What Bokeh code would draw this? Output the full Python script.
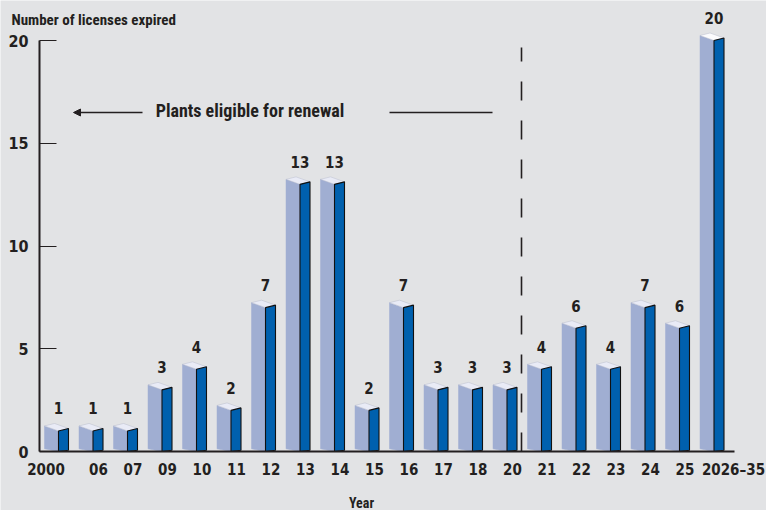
from bokeh.plotting import figure
from bokeh.models import Range1d, FixedTicker, Label, Arrow, NormalHead, ColumnDataSource
from bokeh.core.properties import value
from bokeh.embed import file_html
from bokeh.resources import INLINE

# ---- data ----
years = ["2000", "06", "07", "09", "10", "11", "12", "13", "14", "15",
         "16", "17", "18", "20", "21", "22", "23", "24", "25", "2026\u201335"]
counts = [1, 1, 1, 3, 4, 2, 7, 13, 13, 2, 7, 3, 3, 3, 4, 6, 4, 7, 6, 20]
y_ticks = [0, 5, 10, 15, 20]
title_text = "Number of licenses expired"
x_title = "Year"
note_text = "Plants eligible for renewal"

# ---- styling / geometry ----
BG = "#e2e3e5"
INK = "#231f20"
LEFT_FACE = "#a0aed2"
RIGHT_FACE = "#0060ae"
TOP_FACE = "#e9ebf6"
NUM_FONT = "DejaVu Sans Condensed"
TXT_FONT = "'Roboto Condensed', Roboto"
PX_X = 34.5   # pixels per category step
PX_Y = 20.55  # pixels per unit
OX, OY = 58.0, 451.0  # pixel position of category 0 / value 0

W, H = 766, 510


def dx(px):
    return (px - OX) / PX_X


def dy(py):
    return (OY - py) / PX_Y


p = figure(width=W, height=H, x_range=Range1d(dx(0), dx(W)),
           y_range=Range1d(dy(H), dy(0)),
           output_backend="svg", toolbar_location=None,
           min_border=0, min_border_left=0, min_border_right=0,
           min_border_top=0, min_border_bottom=0,
           background_fill_color=BG, border_fill_color=BG,
           outline_line_color=None)
p.grid.visible = False

# bar prisms
wl, wr = 14 / PX_X, 10 / PX_X
dl, dr = 5 / PX_Y, 2.5 / PX_Y
bl, br = 2.7 / PX_Y, 1.3 / PX_Y
idx = list(range(len(counts)))
left_xs, left_ys, right_xs, right_ys, top_xs, top_ys, top_cols = [], [], [], [], [], [], []
for i, v in zip(idx, counts):
    left_xs.append([i - wl, i, i, i - wl])
    left_ys.append([v + dl, v, 0, bl])
    right_xs.append([i, i + wr, i + wr, i])
    right_ys.append([v, v + dr, br, 0])
    top_xs.append([i - wl, i, i + wr, i - wl + wr])
    top_ys.append([v + dl, v, v + dr, v + dl + dr])
    top_cols.append("#fbfbfd" if v == max(counts) else TOP_FACE)

p.patches(left_xs, left_ys, fill_color=LEFT_FACE, line_color=LEFT_FACE, line_width=0.5)
p.patches(top_xs, top_ys, fill_color=top_cols, line_color="#b8bccc", line_width=0.5)
p.patches(right_xs, right_ys, fill_color=RIGHT_FACE, line_color="#111111", line_width=1.1)

# value labels
src = ColumnDataSource(dict(x=idx, y=[v + 22.5 / PX_Y for v in counts],
                            t=[str(v) for v in counts]))
p.text(x="x", y="y", text="t", source=src, text_align="center",
       text_baseline="alphabetic", text_font=value(NUM_FONT),
       text_font_style="bold", text_font_size="15px", text_color=INK)

# axes (fixed inside the frame)
xa = p.xaxis[0]
tick_pos = [dx(45.5)] + [i + 5.5 / PX_X for i in idx[1:-1]] + [dx(733)]
xa.ticker = FixedTicker(ticks=tick_pos)
xa.major_label_overrides = {t: lab for t, lab in zip(tick_pos, years)}
xa.fixed_location = 0
xa.bounds = (dx(39), dx(734))
xa.axis_line_width = 2
xa.axis_line_color = INK
xa.major_tick_line_color = None
xa.minor_tick_line_color = None
xa.major_label_standoff = 3
xa.major_label_text_font = NUM_FONT
xa.major_label_text_font_style = "bold"
xa.major_label_text_font_size = "15px"
xa.major_label_text_color = INK

ya = p.yaxis[0]
ya.ticker = FixedTicker(ticks=y_ticks)
ya.fixed_location = dx(39)
ya.bounds = (0, 20)
ya.axis_line_width = 2
ya.axis_line_color = INK
ya.major_tick_in = 17
ya.major_tick_out = 0
ya.major_tick_line_color = INK
ya.major_tick_line_width = 1.2
ya.minor_tick_line_color = None
ya.major_label_standoff = 11
ya.major_label_text_font = NUM_FONT
ya.major_label_text_font_style = "bold"
ya.major_label_text_font_size = "16px"
ya.major_label_text_color = INK

# texts
p.add_layout(Label(x=dx(11), y=dy(19), text=title_text,
                   text_font=TXT_FONT, text_font_style="bold", text_font_size="15px",
                   text_color=INK, text_baseline="alphabetic"))
p.add_layout(Label(x=dx(361), y=dy(502), text=x_title,
                   text_font=TXT_FONT, text_font_style="bold", text_font_size="14px",
                   text_color=INK, text_align="center", text_baseline="alphabetic"))
p.add_layout(Label(x=dx(249.5), y=dy(110), text=note_text,
                   text_font=TXT_FONT, text_font_style="bold", text_font_size="18px",
                   text_color=INK, text_align="center", text_baseline="alphabetic"))

ay = dy(112)
p.add_layout(Arrow(end=NormalHead(size=7, fill_color=INK, line_color=INK),
                   x_start=dx(142), y_start=ay, x_end=dx(73), y_end=ay,
                   line_color=INK, line_width=1.5))
p.add_layout(Arrow(end=None, x_start=dx(389), y_start=ay, x_end=dx(492), y_end=ay,
                   line_color=INK, line_width=1.5))

# dashed divider
p.segment(x0=[dx(521)], y0=[0], x1=[dx(521)], y1=[dy(47)],
          line_color=INK, line_width=1.6, line_dash="19 20")

open("out.html", "w").write(file_html(p, INLINE))
